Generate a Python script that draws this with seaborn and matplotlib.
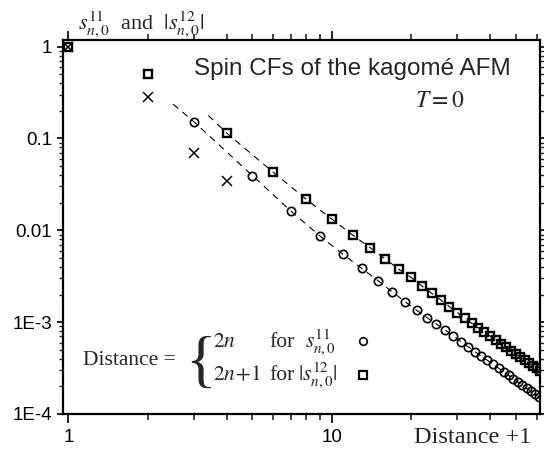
import matplotlib
matplotlib.use("Agg")
import matplotlib.pyplot as plt
from matplotlib.lines import Line2D
from matplotlib.ticker import FixedLocator, NullFormatter
import seaborn as sns
import pandas as pd

# ---- data ----
circ_x = [3, 5, 7, 9, 11, 13, 15, 17, 19, 21, 23, 25, 27, 29, 31, 33, 35, 37,
          39, 41, 43, 45, 47, 49, 51, 53, 55, 57, 59, 61]
circ_y = [0.152, 0.0394, 0.0162, 0.00873, 0.00552, 0.00385, 0.00283, 0.00213,
          0.00167, 0.00135, 0.00112, 0.000953, 0.00082, 0.000711, 0.000611,
          0.000538, 0.000477, 0.000427, 0.000384, 0.000347, 0.000315, 0.000287,
          0.000263, 0.000241, 0.000222, 0.000206, 0.000191, 0.000177, 0.000166,
          0.000155]
sq_x = [1, 2, 4, 6, 8, 10, 12, 14, 16, 18, 20, 22, 24, 26, 28, 30, 32, 34, 36,
        38, 40, 42, 44, 46, 48, 50, 52, 54, 56, 58, 60, 62]
sq_y = [1.0, 0.50, 0.114, 0.0428, 0.0218, 0.0133, 0.0089, 0.00646, 0.00487,
        0.00376, 0.00308, 0.00247, 0.00206, 0.00174, 0.00147, 0.00127, 0.0011,
        0.000973, 0.000869, 0.00078, 0.000703, 0.000638, 0.000581, 0.000532,
        0.000489, 0.00045, 0.000416, 0.000386, 0.000359, 0.000335, 0.000313,
        0.000293]
cross_x = [1, 2, 3, 4]
cross_y = [1.0, 0.285, 0.069, 0.0347]
# dashed guide curves: start point + the points they pass through
fit_lo_x = [2.5] + circ_x
fit_lo_y = [0.236] + circ_y
fit_hi_x = [3.4] + sq_x[2:]
fit_hi_y = [0.178] + sq_y[2:]

x_major = [1, 10]
x_major_labels = ["1", "10"]
x_minor = [2, 3, 4, 5, 6, 7, 8, 9, 20, 30, 40, 50, 60]
y_major = [1e-4, 1e-3, 1e-2, 1e-1, 1]
y_major_labels = ["1E-4", "1E-3", "0.01", "0.1", "1"]

# ---- style ----
sns.set_theme(style="white")
plt.rcParams["font.family"] = ["Liberation Sans", "DejaVu Sans"]
plt.rcParams["mathtext.fontset"] = "stix"

W, H = 544, 451
fig = plt.figure(figsize=(W / 100, H / 100), dpi=100)
ax = fig.add_axes([62.7 / W, 1 - 414 / H, (540 - 62.7) / W, (414 - 40) / H])
ax.set_xscale("log")
ax.set_yscale("log")

df_lo = pd.DataFrame({"x": fit_lo_x, "y": fit_lo_y})
df_hi = pd.DataFrame({"x": fit_hi_x, "y": fit_hi_y})
for d in (df_lo, df_hi):
    sns.lineplot(data=d, x="x", y="y", ax=ax, color="black", lw=0.8,
                 dashes=False, linestyle=(0, (6, 5)), sort=False, zorder=2)

df_c = pd.DataFrame({"x": circ_x, "y": circ_y})
df_s = pd.DataFrame({"x": sq_x, "y": sq_y})
df_x = pd.DataFrame({"x": cross_x, "y": cross_y})
sns.lineplot(data=df_c, x="x", y="y", ax=ax, linestyle="", marker="o",
             markersize=6, markerfacecolor="none", markeredgecolor="black",
             markeredgewidth=1.2, sort=False, zorder=3)
sns.lineplot(data=df_s, x="x", y="y", ax=ax, linestyle="", marker="s",
             markersize=6.3, markerfacecolor="none", markeredgecolor="black",
             markeredgewidth=1.7, sort=False, zorder=3)
sns.lineplot(data=df_x, x="x", y="y", ax=ax, linestyle="", marker="x",
             markersize=7.5, markeredgecolor="black", color="black",
             markeredgewidth=1.1, sort=False, zorder=3)

ax.set_xlim(0.952, 61.8)
ax.set_ylim(1e-4, 1.18)
ax.set_xlabel("")
ax.set_ylabel("")
ax.grid(False)

ax.xaxis.set_major_locator(FixedLocator(x_major))
ax.set_xticklabels(x_major_labels)
ax.xaxis.set_minor_locator(FixedLocator(x_minor))
ax.xaxis.set_minor_formatter(NullFormatter())
ax.yaxis.set_major_locator(FixedLocator(y_major))
ax.set_yticklabels(y_major_labels)
ax.yaxis.set_minor_locator(FixedLocator(
    [m * 10.0 ** e for e in range(-4, 0) for m in range(2, 10)]))
ax.yaxis.set_minor_formatter(NullFormatter())

for s in ax.spines.values():
    s.set_linewidth(1.6)
    s.set_color("black")

ax.tick_params(axis="x", which="major", direction="out", length=6.5, width=1.2,
               top=True, bottom=True, labelsize=13.5, pad=4, colors="black")
ax.tick_params(axis="x", which="minor", direction="out", length=4, width=1.2,
               top=True, bottom=True)
ax.tick_params(axis="y", which="major", direction="out", length=4.5, width=1.2,
               left=True, right=True, labelsize=13.5, pad=3, colors="black")
ax.tick_params(axis="y", which="minor", direction="out", length=3, width=1.0,
               left=True, right=True)


def ft(x, y, s, **kw):
    fig.text(x / W, 1 - y / H, s, va="baseline", **kw)


serif = ["Liberation Serif", "DejaVu Serif"]
ft(78, 29, r"$s^{11}_{n,0}$  and  $|s^{12}_{n,0}|$", fontsize=16, family=serif)
ft(352, 75, "Spin CFs of the kagomé AFM", fontsize=17.5, ha="center",
   family=["Liberation Sans", "DejaVu Sans"])
ft(415, 107, r"$T = 0$", fontsize=17, family=serif)
ft(414, 443, "Distance +1", fontsize=17.5, family=serif)

ft(83, 365, "Distance =", fontsize=15.5, family=serif)
ft(185, 381, "{", fontsize=46, family=serif)
ft(213, 347, r"$2n$", fontsize=15.5, family=serif)
ft(269, 347, "for", fontsize=15.5, family=serif)
ft(305, 347, r"$s^{11}_{n,0}$", fontsize=15.5, family=serif)
ft(213, 380, r"$2n\!+\!1$", fontsize=15.5, family=serif)
ft(269, 380, "for", fontsize=15.5, family=serif)
ft(298, 380, r"$|s^{12}_{n,0}|$", fontsize=15.5, family=serif)

fig.add_artist(Line2D([363 / W], [1 - 341 / H], transform=fig.transFigure,
                      marker="o", markersize=5.5, markerfacecolor="none",
                      markeredgecolor="black", markeredgewidth=1.2,
                      linestyle=""))
fig.add_artist(Line2D([363 / W], [1 - 375 / H], transform=fig.transFigure,
                      marker="s", markersize=5.5, markerfacecolor="none",
                      markeredgecolor="black", markeredgewidth=1.6,
                      linestyle=""))

fig.savefig("out.png", dpi=100, facecolor="white")
